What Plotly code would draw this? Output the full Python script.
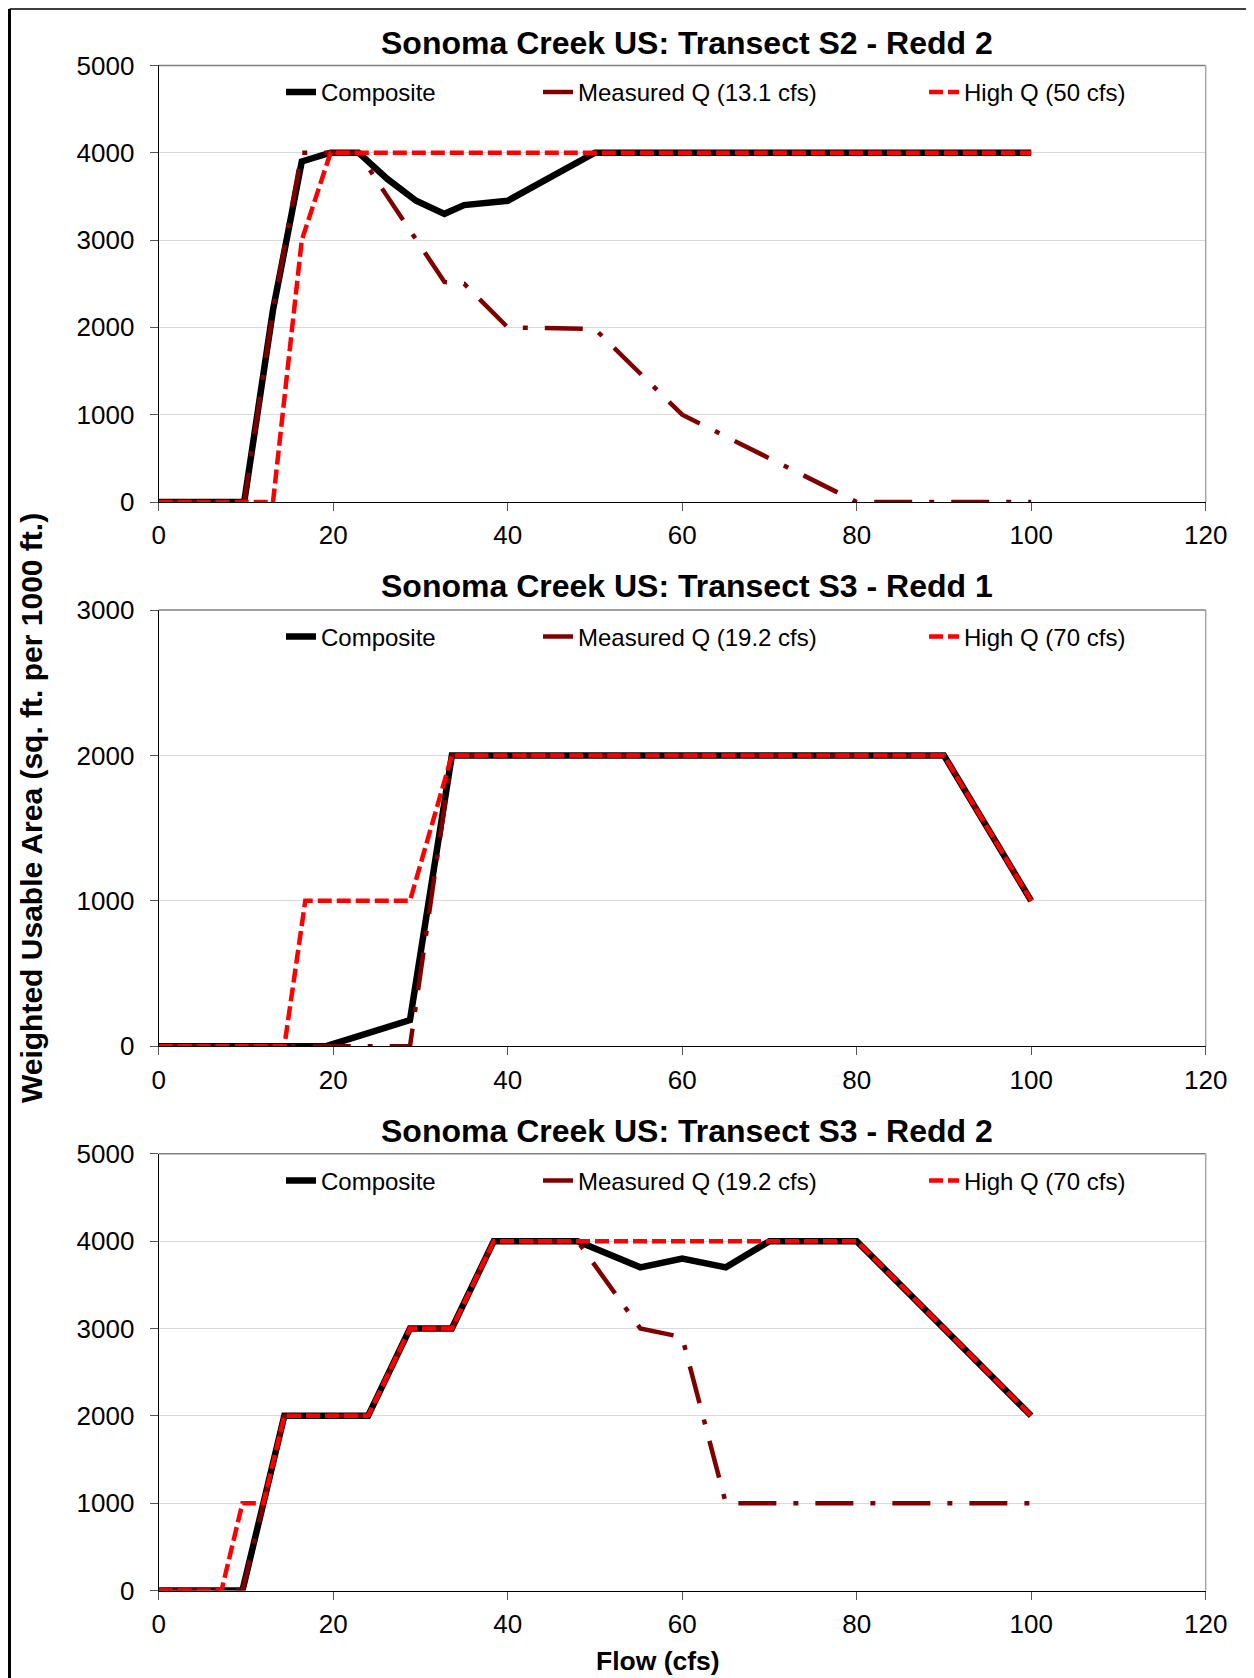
import plotly.graph_objects as go

# ---------------- data ----------------
# Chart 1: Sonoma Creek US: Transect S2 - Redd 2
flow_s2 = [0, 3.3, 6.6, 9.8, 13.1, 16.4, 19.7, 22.9, 26.2, 29.5, 32.75, 35, 40, 50, 60, 70, 80, 90, 100]
composite_s2 = [0, 0, 0, 0, 2200, 3900, 4000, 4000, 3700, 3450, 3300, 3400, 3450, 4000, 4000, 4000, 4000, 4000, 4000]
measured_s2 = [0, 0, 0, 0, 2200, 4000, 4000, 4000, 3500, 3000, 2520, 2500, 2000, 1980, 1000, 500, 0, 0, 0]
highq_s2 = [0, 0, 0, 0, 0, 3000, 4000, 4000, 4000, 4000, 4000, 4000, 4000, 4000, 4000, 4000, 4000, 4000, 4000]

# Chart 2: Sonoma Creek US: Transect S3 - Redd 1
flow_s3r1 = [0, 4.8, 9.6, 14.4, 16.8, 19.2, 24, 28.8, 33.6, 38.4, 48, 60, 70, 80, 90, 100]
composite_s3r1 = [0, 0, 0, 0, 0, 0, 90, 180, 2000, 2000, 2000, 2000, 2000, 2000, 2000, 1000]
measured_s3r1 = [0, 0, 0, 0, 0, 0, 0, 0, 2000, 2000, 2000, 2000, 2000, 2000, 2000, 1000]
highq_s3r1 = [0, 0, 0, 0, 1000, 1000, 1000, 1000, 2000, 2000, 2000, 2000, 2000, 2000, 2000, 1000]

# Chart 3: Sonoma Creek US: Transect S3 - Redd 2
flow_s3r2 = [0, 4.8, 7.2, 9.6, 12, 14.4, 19.2, 24, 28.8, 33.6, 38.4, 43.2, 48, 55.2, 60, 65, 70, 80, 90, 100]
composite_s3r2 = [0, 0, 0, 0, 1000, 2000, 2000, 2000, 3000, 3000, 4000, 4000, 4000, 3700, 3800, 3700, 4000, 4000, 3000, 2000]
measured_s3r2 = [0, 0, 0, 0, 1000, 2000, 2000, 2000, 3000, 3000, 4000, 4000, 4000, 3000, 2900, 1000, 1000, 1000, 1000, 1000]
highq_s3r2 = [0, 0, 0, 1000, 1000, 2000, 2000, 2000, 3000, 3000, 4000, 4000, 4000, 4000, 4000, 4000, 4000, 4000, 3000, 2000]

titles = ["Sonoma Creek US: Transect S2 - Redd 2",
          "Sonoma Creek US: Transect S3 - Redd 1",
          "Sonoma Creek US: Transect S3 - Redd 2"]
measured_names = ["Measured Q (13.1 cfs)", "Measured Q (19.2 cfs)", "Measured Q (19.2 cfs)"]
highq_names = ["High Q (50 cfs)", "High Q (70 cfs)", "High Q (70 cfs)"]
y_max = [5000, 3000, 5000]
x_ticks = [0, 20, 40, 60, 80, 100, 120]

charts = [
    (flow_s2, composite_s2, measured_s2, highq_s2),
    (flow_s3r1, composite_s3r1, measured_s3r1, highq_s3r1),
    (flow_s3r2, composite_s3r2, measured_s3r2, highq_s3r2),
]

# ---------------- layout geometry (pixels in the page) ----------------
W, H = 1254, 1678
OFF = 8  # page body margin
plot_left, plot_right = 158.7, 1205.7
plot_tops = [65.4, 610.0, 1153.8]
plot_bottoms = [502.0, 1046.2, 1590.5]
FONT = "Liberation Sans, Arial, sans-serif"

def px_x(p):
    return (p - OFF) / W

def px_y(p):
    return 1 - (p - OFF) / H

fig = go.Figure()
layout = dict(
    width=W, height=H,
    margin=dict(l=0, r=0, t=0, b=0, pad=0, autoexpand=False),
    paper_bgcolor="white", plot_bgcolor="white",
    font=dict(family=FONT, size=24, color="black"),
    showlegend=True,
    annotations=[], shapes=[],
)

legend_text_x = [321, 578, 964]
legend_idx = 0
for i, (fx, comp, meas, hq) in enumerate(charts):
    sfx = "" if i == 0 else str(i + 1)
    xa, ya = "x" + sfx, "y" + sfx
    names = ["Composite", measured_names[i], highq_names[i]]
    series = [comp, meas, hq]
    styles = [
        dict(color="black", width=6.5, dash="solid"),
        dict(color="#800000", width=4.5, dash="38px,17px,5px,17px"),
        dict(color="#ff0000", width=4.5, dash="14px,5px"),
    ]
    for j in range(3):
        legend_idx += 1
        lname = "legend" if legend_idx == 1 else "legend%d" % legend_idx
        fig.add_trace(go.Scatter(
            x=fx, y=series[j], mode="lines", name=names[j],
            line=styles[j], xaxis=xa, yaxis=ya, legend=lname,
            cliponaxis=False,
        ))
        layout[lname] = dict(
            x=px_x(legend_text_x[j] - 40), y=px_y(plot_tops[i] + 27),
            xanchor="left", yanchor="middle", orientation="h",
            bgcolor="rgba(0,0,0,0)", borderwidth=0,
            font=dict(family=FONT, size=24, color="black"),
        )
    dom_y = [px_y(plot_bottoms[i]), px_y(plot_tops[i])]
    layout["xaxis" + sfx] = dict(
        domain=[px_x(plot_left), px_x(plot_right)], anchor=ya,
        range=[0, 120], tickvals=x_ticks, showgrid=False, zeroline=False,
        showline=True, linecolor="black", linewidth=1.3,
        ticks="outside", ticklen=8, tickcolor="#555555", tickwidth=1.3,
        tickfont=dict(family=FONT, size=26, color="black"),
        ticklabelstandoff=2, automargin=False,
    )
    layout["yaxis" + sfx] = dict(
        domain=dom_y, anchor=xa, range=[0, y_max[i]], dtick=1000,
        showgrid=True, gridcolor="#d9d9d9", gridwidth=1.3, zeroline=False,
        showline=True, linecolor="black", linewidth=1.3,
        ticks="outside", ticklen=8, tickcolor="#555555", tickwidth=1.3,
        tickfont=dict(family=FONT, size=26, color="black"),
        ticklabelstandoff=10, automargin=False,
    )
    # plot-area border (top and right, grey)
    layout["shapes"].append(dict(type="line", xref=xa + " domain", yref=ya + " domain",
                                 x0=0, x1=1, y0=1, y1=1, line=dict(color="#808080", width=1.5)))
    layout["shapes"].append(dict(type="line", xref=xa + " domain", yref=ya + " domain",
                                 x0=1, x1=1, y0=0, y1=1, line=dict(color="#a6a6a6", width=1.5)))
    # chart title
    title_y = [43, 586, 1131][i]
    layout["annotations"].append(dict(
        text="<b>%s</b>" % titles[i], xref="paper", yref="paper",
        x=px_x(687), y=px_y(title_y), xanchor="center", yanchor="middle",
        showarrow=False, font=dict(family=FONT, size=32, color="black"),
    ))

# shared axis titles
layout["annotations"].append(dict(
    text="<b>Flow (cfs)</b>", xref="paper", yref="paper",
    x=px_x(658), y=px_y(1661), xanchor="center", yanchor="middle",
    showarrow=False, font=dict(family=FONT, size=26.5, color="black"),
))
layout["annotations"].append(dict(
    text="<b>Weighted Usable Area (sq. ft. per 1000 ft.)</b>", xref="paper", yref="paper",
    x=px_x(31), y=px_y(808), xanchor="center", yanchor="middle", textangle=-90,
    showarrow=False, font=dict(family=FONT, size=30, color="black"),
))

# outer frame (left / top / right edges of the chart border)
frame_left, frame_top, frame_right = 9.5, 9, 1251
layout["shapes"].append(dict(type="line", xref="paper", yref="paper",
                             x0=px_x(frame_left), x1=px_x(frame_left), y0=px_y(frame_top), y1=-0.02,
                             line=dict(color="black", width=3)))
layout["shapes"].append(dict(type="line", xref="paper", yref="paper",
                             x0=px_x(frame_left), x1=px_x(frame_right), y0=px_y(frame_top), y1=px_y(frame_top),
                             line=dict(color="black", width=1.5)))
layout["shapes"].append(dict(type="line", xref="paper", yref="paper",
                             x0=px_x(frame_right), x1=px_x(frame_right), y0=px_y(frame_top), y1=-0.02,
                             line=dict(color="black", width=1.8)))

fig.update_layout(**layout)
fig.write_html("out.html")
